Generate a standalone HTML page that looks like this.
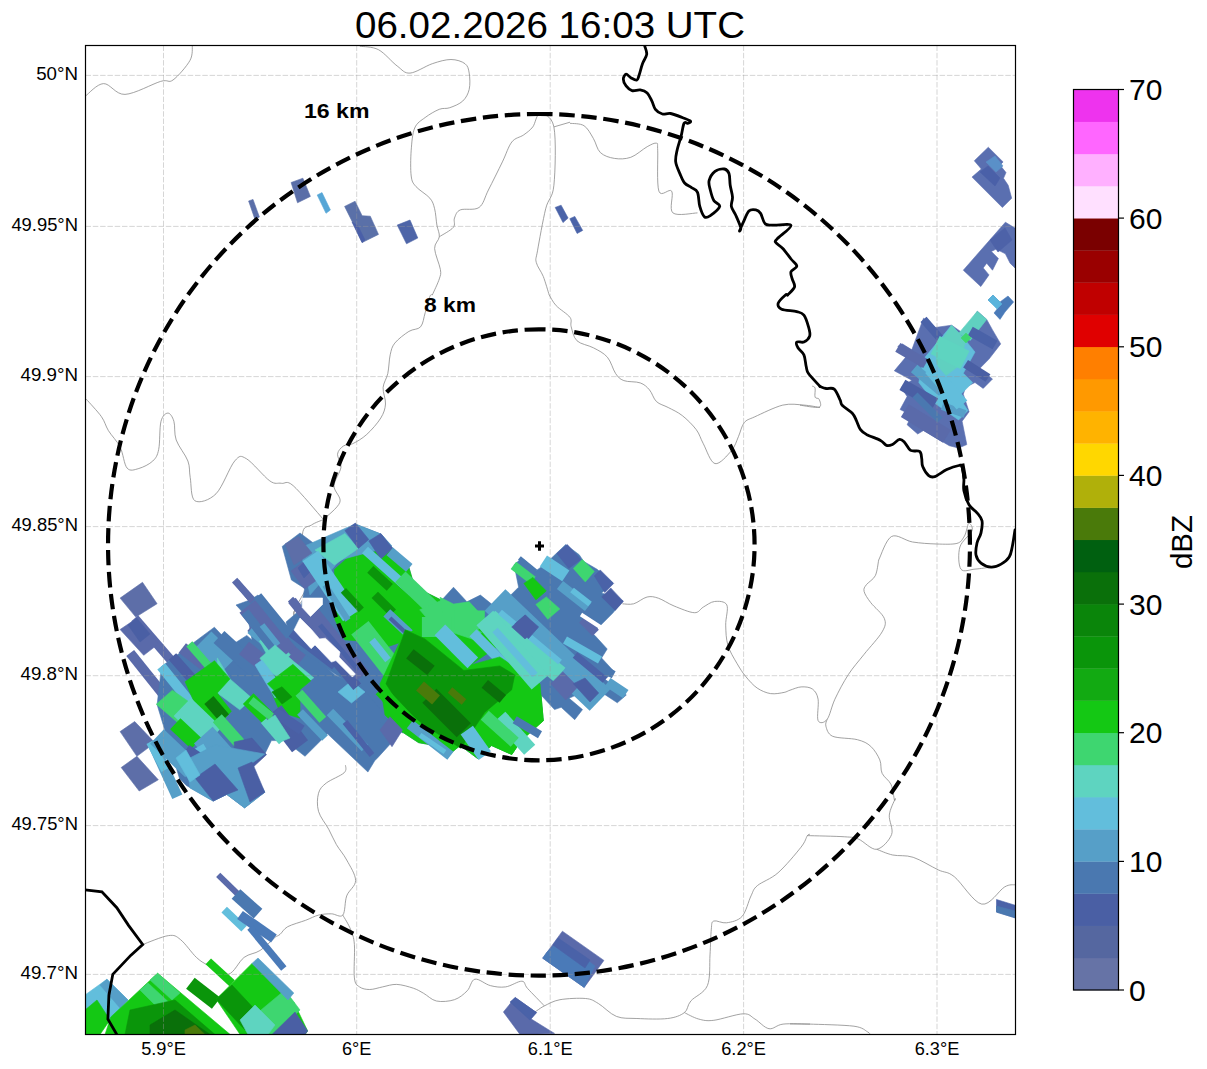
<!DOCTYPE html><html><head><meta charset="utf-8"><style>html,body{margin:0;padding:0;background:#fff;width:1207px;height:1069px;overflow:hidden;position:relative}</style></head><body><svg width="1207" height="1069" viewBox="0 0 1207 1069" style="position:absolute;left:0;top:0">
<rect width="100%" height="100%" fill="#fff"/>
<defs><clipPath id="ax"><rect x="85.5" y="45.5" width="930.0" height="989.0"/></clipPath></defs>
<g clip-path="url(#ax)">
<path d="M85.5,96.0 C88.5,93.9 96.9,83.9 103.5,83.6 C110.1,83.3 115.5,94.8 125.0,94.4 C134.5,94.0 152.6,83.8 160.6,81.4 C168.6,79.0 168.1,83.5 173.0,80.0 C177.9,76.5 186.8,66.2 190.0,60.4 C193.2,54.6 192.0,47.6 192.4,45.0" fill="none" stroke="#8a8a8a" stroke-width="0.8" stroke-linejoin="round"/>
<path d="M359.8,46.2 C362.9,46.8 372.3,46.4 378.5,49.7 C384.7,53.0 391.9,62.1 397.2,66.0 C402.4,69.9 404.1,73.5 410.0,73.1 C415.9,72.7 425.5,66.0 432.3,63.7 C439.1,61.4 445.6,59.5 451.0,59.5 C456.4,59.5 462.0,61.4 465.0,63.7 C468.0,66.0 468.5,68.8 469.2,73.1 C469.9,77.4 470.3,84.7 469.2,89.4 C468.1,94.1 465.9,98.0 462.7,101.1 C459.5,104.1 453.7,106.3 449.8,107.7 C445.9,109.1 443.4,107.7 439.3,109.3 C435.2,110.9 429.3,114.4 425.2,117.5 C421.1,120.6 417.0,122.5 414.7,128.0 C412.4,133.4 411.8,142.2 411.2,150.2 C410.6,158.2 410.4,169.9 411.2,176.0 C412.0,182.1 412.8,182.8 415.9,186.5 C419.0,190.2 426.8,194.5 429.9,198.2 C433.0,201.9 433.4,204.2 434.6,208.7 C435.8,213.2 436.1,220.4 436.9,225.1 C437.7,229.8 439.7,232.9 439.3,236.8 C438.9,240.7 434.4,243.1 434.6,248.5 C434.8,253.9 439.6,264.4 440.4,269.5 C441.2,274.6 440.6,274.6 439.3,278.9 C438.0,283.1 433.5,292.3 432.3,295.0" fill="none" stroke="#8a8a8a" stroke-width="0.8" stroke-linejoin="round"/>
<path d="M439.3,236.8 C441.6,235.2 450.8,230.5 453.3,227.4 C455.8,224.3 453.3,220.9 454.5,218.0 C455.7,215.1 456.2,211.7 460.3,209.9 C464.4,208.2 474.3,210.8 479.0,207.5 C483.7,204.2 484.5,197.6 488.4,190.0 C492.3,182.4 498.5,169.9 502.4,161.9 C506.3,153.9 508.3,146.5 511.8,142.0 C515.3,137.5 520.0,137.5 523.5,135.0 C527.0,132.5 530.1,130.4 532.8,126.9 C535.5,123.4 536.3,114.0 539.8,114.0 C543.3,114.0 551.5,115.0 553.9,126.9 C556.2,138.8 555.3,171.7 553.9,185.3 C552.5,198.9 548.4,197.8 545.7,208.7 C543.0,219.6 539.1,241.8 537.5,250.8 C535.9,259.8 535.3,258.2 536.3,262.5 C537.3,266.8 541.1,271.1 543.3,276.5 C545.4,281.9 548.2,291.9 549.2,295.0" fill="none" stroke="#8a8a8a" stroke-width="0.8" stroke-linejoin="round"/>
<path d="M553.9,126.9 L570.0,122.2" fill="none" stroke="#8a8a8a" stroke-width="0.8" stroke-linejoin="round"/>
<path d="M570.0,123.3 C572.3,123.7 580.1,123.2 584.0,125.7 C587.9,128.2 590.7,134.0 593.4,138.5 C596.1,143.0 596.9,149.3 600.4,152.6 C603.9,155.9 609.3,157.6 614.4,158.4 C619.5,159.2 625.3,159.2 630.8,157.3 C636.3,155.4 642.9,149.0 647.2,146.7 C651.5,144.3 654.8,142.6 656.5,143.2 C658.2,143.8 657.3,142.2 657.7,150.2 C658.1,158.2 656.6,184.4 658.9,191.2 C661.2,198.0 669.4,187.6 671.7,191.2 C674.0,194.8 668.6,209.3 672.9,212.9 C677.2,216.5 693.4,212.9 697.5,212.9" fill="none" stroke="#8a8a8a" stroke-width="0.8" stroke-linejoin="round"/>
<path d="M86.2,399.1 C88.7,402.0 97.7,411.4 101.4,416.6 C105.1,421.9 105.3,425.5 108.4,430.6 C111.5,435.7 117.0,440.8 120.1,447.0 C123.2,453.2 124.0,464.5 127.1,468.1 C130.2,471.7 134.5,469.7 138.8,468.5 C143.1,467.3 149.5,464.2 152.8,461.0 C156.1,457.8 157.3,456.0 158.7,449.4 C160.1,442.8 159.4,427.4 161.0,421.3 C162.6,415.2 165.8,413.1 168.0,413.1 C170.2,413.1 172.5,416.8 173.9,421.3 C175.3,425.8 173.9,433.4 176.2,440.0 C178.5,446.6 185.6,454.8 187.9,461.0 C190.2,467.2 189.0,470.8 190.2,477.4 C191.4,484.0 190.6,498.1 194.9,500.8 C199.2,503.5 209.4,500.4 216.0,493.8 C222.6,487.2 229.6,466.9 234.7,461.0 C239.8,455.1 240.6,455.4 246.4,458.7 C252.2,462.0 264.0,476.8 269.8,480.9 C275.6,485.0 277.5,482.5 281.4,483.3 C285.3,484.1 286.1,479.6 293.1,485.6 C300.1,491.6 318.4,513.9 323.5,519.5" fill="none" stroke="#8a8a8a" stroke-width="0.8" stroke-linejoin="round"/>
<path d="M432.3,295.0 C431.9,295.2 431.1,293.4 429.9,296.4 C428.7,299.3 426.8,307.6 425.2,312.7 C423.6,317.8 423.3,323.7 420.6,326.8 C417.9,329.9 413.2,328.7 408.9,331.4 C404.6,334.1 397.9,339.2 394.8,343.1 C391.7,347.0 391.4,349.7 390.2,354.8 C389.0,359.9 389.0,368.0 387.8,373.5 C386.6,379.0 383.5,382.5 383.1,387.6 C382.7,392.7 385.9,398.9 385.5,404.0 C385.1,409.1 383.9,412.9 380.8,418.0 C377.7,423.1 371.5,430.1 366.8,434.4 C362.1,438.7 356.6,441.8 352.7,443.7 C348.8,445.6 345.9,444.2 343.4,446.0 C340.9,447.8 337.9,450.7 337.5,454.2 C337.1,457.7 341.6,461.8 341.0,467.1 C340.4,472.4 334.2,480.0 334.0,485.8 C333.8,491.6 341.6,496.6 339.9,502.2 C338.1,507.8 326.2,516.6 323.5,519.5" fill="none" stroke="#8a8a8a" stroke-width="0.8" stroke-linejoin="round"/>
<path d="M549.2,295.0 C550.4,296.8 552.7,302.0 556.2,305.7 C559.7,309.4 567.5,313.9 570.0,317.4 C572.5,320.9 570.0,322.9 571.2,326.8 C572.4,330.7 573.3,337.3 577.0,340.8 C580.7,344.3 588.3,345.1 593.4,347.8 C598.5,350.5 603.7,352.9 607.4,357.2 C611.1,361.5 612.9,369.6 615.6,373.5 C618.3,377.4 619.7,379.0 623.8,380.6 C627.9,382.2 635.9,381.3 640.2,382.9 C644.5,384.4 646.8,386.8 649.5,389.9 C652.2,393.0 653.4,398.7 656.5,401.6 C659.6,404.5 663.9,405.2 668.2,407.5 C672.5,409.8 677.6,411.9 682.3,415.6 C687.0,419.3 692.8,425.0 696.3,429.7 C699.8,434.4 700.2,438.0 703.3,443.7 C706.4,449.4 710.3,462.4 715.0,463.6 C719.7,464.8 727.5,455.2 731.4,450.7 C735.3,446.2 736.3,441.4 738.4,436.7 C740.5,432.0 741.5,426.0 744.2,422.7 C746.9,419.4 748.4,419.7 754.8,416.8 C761.2,413.9 774.6,407.1 782.8,405.1 C791.0,403.2 797.7,404.7 803.9,405.1 C810.1,405.5 817.3,407.1 820.0,407.5" fill="none" stroke="#8a8a8a" stroke-width="0.8" stroke-linejoin="round"/>
<path d="M800.0,405.2 C803.2,405.5 815.9,408.2 819.1,407.2 C822.3,406.2 819.8,400.9 819.1,399.2 C818.4,397.5 815.8,399.0 815.1,397.2 C814.4,395.4 815.6,390.0 815.1,388.1 C814.6,386.2 812.6,386.4 812.1,386.1" fill="none" stroke="#8a8a8a" stroke-width="0.8" stroke-linejoin="round"/>
<path d="M878.7,560.0 C880.8,556.1 885.9,539.5 891.5,536.5 C897.1,533.5 905.1,540.8 912.6,542.0 C920.1,543.2 929.4,543.8 936.8,544.0 C944.2,544.2 952.4,544.6 956.9,543.4 C961.4,542.2 962.2,539.4 963.9,537.0 C965.6,534.6 966.1,531.2 966.9,528.9 C967.7,526.5 968.0,522.6 968.9,522.9 C969.8,523.2 973.5,526.9 972.0,530.9 C970.5,534.9 961.8,540.6 959.9,547.0 C958.0,553.4 958.4,565.4 960.9,569.1 C963.4,572.8 970.0,569.4 975.0,569.1 C980.0,568.8 988.4,567.4 991.1,567.1" fill="none" stroke="#8a8a8a" stroke-width="0.8" stroke-linejoin="round"/>
<path d="M142.7,944.5 C147.0,943.0 162.2,936.4 168.5,935.6 C174.8,934.8 175.8,935.9 180.4,939.5 C185.1,943.1 191.8,953.1 196.4,957.4 C201.1,961.7 203.0,962.6 208.3,965.4 C213.6,968.2 222.2,975.6 228.2,974.3 C234.2,973.0 238.8,961.4 244.1,957.4 C249.4,953.4 254.7,954.0 260.0,950.5 C265.3,947.0 273.2,938.9 275.9,936.6" fill="none" stroke="#8a8a8a" stroke-width="0.8" stroke-linejoin="round"/>
<path d="M345.5,765.2 C345.3,766.5 347.3,769.8 344.1,772.8 C340.9,775.8 330.5,779.7 326.2,783.1 C321.9,786.5 319.8,788.6 318.5,793.3 C317.2,798.0 316.8,805.3 318.5,811.3 C320.2,817.3 325.7,823.7 328.7,829.2 C331.7,834.8 333.4,839.5 336.4,844.6 C339.4,849.7 343.5,854.0 346.7,860.0 C349.9,866.0 355.6,874.5 355.6,880.5 C355.6,886.5 348.8,890.1 346.7,895.9 C344.6,901.7 345.4,912.1 342.8,915.1 C340.2,918.1 335.4,913.8 331.3,913.8 C327.2,913.8 322.8,914.0 318.5,915.1 C314.2,916.2 310.7,918.4 305.6,920.3 C300.5,922.2 292.0,924.4 287.7,926.7 C283.4,929.1 282.0,932.8 280.0,934.4 C278.0,936.0 276.6,936.2 275.9,936.6" fill="none" stroke="#8a8a8a" stroke-width="0.8" stroke-linejoin="round"/>
<path d="M342.8,915.1 C344.1,917.5 348.6,924.3 350.5,929.2 C352.4,934.1 353.8,936.5 354.4,944.6 C355.0,952.7 353.5,970.9 354.4,977.9 C355.2,984.9 356.9,985.0 359.5,986.9 C362.1,988.8 365.8,989.5 369.7,989.5 C373.6,989.5 378.1,987.8 382.6,986.9 C387.1,986.0 391.6,984.2 396.7,984.4 C401.8,984.6 408.8,986.7 413.3,988.2 C417.8,989.7 419.8,991.2 423.6,993.3 C427.5,995.4 431.3,999.9 436.4,1001.0 C441.5,1002.1 449.3,1001.4 454.4,999.7 C459.5,998.0 463.8,994.2 467.2,990.8 C470.6,987.4 471.0,980.1 474.9,979.2 C478.8,978.3 485.2,984.3 490.3,985.6 C495.4,986.9 500.3,987.6 505.6,986.9 C510.9,986.2 518.2,980.9 521.9,981.2 C525.6,981.5 523.9,984.4 527.6,988.5 C531.4,992.6 541.6,1003.0 544.4,1005.9" fill="none" stroke="#8a8a8a" stroke-width="0.8" stroke-linejoin="round"/>
<path d="M306.2,589.1 C304.1,593.4 293.3,608.9 293.9,614.9 C294.5,620.9 307.0,623.3 309.6,625.0" fill="none" stroke="#8a8a8a" stroke-width="0.8" stroke-linejoin="round"/>
<path d="M323.8,519.5 C321.7,520.4 315.0,522.5 311.4,525.1 C307.8,527.7 303.1,524.5 302.4,535.2 C301.6,545.9 308.4,576.0 306.9,589.1 C305.4,602.2 293.1,608.1 293.5,613.7 C293.9,619.3 306.6,621.2 309.2,622.7" fill="none" stroke="#8a8a8a" stroke-width="0.8" stroke-linejoin="round"/>
<path d="M522.0,1020.0 C524.4,1018.5 532.8,1013.2 536.5,1010.9 C540.2,1008.5 540.5,1007.8 544.4,1005.9 C548.3,1004.0 553.1,1000.9 560.0,999.7 C566.9,998.5 579.2,997.9 585.6,998.5 C592.0,999.1 593.4,1000.6 598.5,1003.6 C603.6,1006.6 610.0,1013.9 616.4,1016.4 C622.8,1018.9 628.3,1018.1 636.9,1018.5 C645.5,1018.9 659.8,1019.5 667.7,1018.5 C675.6,1017.5 680.5,1015.5 684.4,1012.6 C688.2,1009.7 687.0,1005.5 690.8,1001.0 C694.6,996.5 704.2,993.3 707.4,985.6 C710.6,977.9 709.4,964.3 710.0,954.9 C710.6,945.5 710.7,934.9 711.3,929.2 C711.9,923.6 711.2,922.1 713.8,921.0 C716.4,919.9 722.0,923.6 726.7,922.8 C731.4,922.0 738.1,920.9 742.1,916.4 C746.1,911.9 748.5,901.0 751.0,895.9 C753.5,890.8 752.9,889.5 757.4,885.6 C761.9,881.8 770.7,879.2 778.0,872.8 C785.3,866.4 796.1,853.4 801.0,847.2 C805.9,841.0 805.9,837.7 807.4,835.6 C808.9,833.5 809.6,834.6 810.0,834.4" fill="none" stroke="#8a8a8a" stroke-width="0.8" stroke-linejoin="round"/>
<path d="M684.4,1012.6 C686.8,1013.7 693.6,1017.7 698.5,1019.0 C703.4,1020.3 706.3,1021.2 713.8,1020.3 C721.3,1019.4 736.4,1014.0 743.3,1013.8 C750.1,1013.6 750.6,1016.5 754.9,1019.0 C759.2,1021.5 764.3,1027.9 769.0,1028.7 C773.7,1029.5 776.3,1024.9 783.1,1024.1 C789.9,1023.3 805.5,1024.1 810.0,1024.1" fill="none" stroke="#8a8a8a" stroke-width="0.8" stroke-linejoin="round"/>
<path d="M878.7,560.0 C878.1,562.6 877.3,571.6 875.3,575.7 C873.2,579.8 868.3,582.1 866.4,584.7 C864.5,587.3 863.4,588.4 864.1,591.4 C864.8,594.4 867.4,598.2 870.8,602.7 C874.2,607.2 882.4,613.5 884.3,618.4 C886.2,623.3 885.5,625.9 882.1,631.9 C878.7,637.9 869.7,647.2 864.1,654.3 C858.5,661.4 853.3,667.0 848.4,674.5 C843.5,682.0 838.4,691.7 834.9,699.2 C831.4,706.7 829.9,715.8 827.1,719.4 C824.3,723.0 819.6,724.0 818.1,720.6 C816.6,717.2 819.0,704.5 818.1,699.2 C817.2,694.0 815.3,691.2 812.5,689.1 C809.7,687.0 805.0,686.7 801.2,686.9 C797.5,687.1 792.9,689.3 790.0,690.2 C787.1,691.1 787.3,691.8 784.1,692.4 C780.9,693.0 775.1,694.3 770.6,693.6 C766.1,692.9 761.2,690.8 757.1,688.0 C753.0,685.2 749.3,680.8 745.9,676.7 C742.5,672.6 739.9,668.5 736.9,663.3 C733.9,658.1 729.8,651.7 727.9,645.3 C726.0,638.9 725.9,631.8 725.7,625.1 C725.5,618.4 728.7,608.8 726.8,604.9 C724.9,601.0 718.4,601.1 714.5,601.5 C710.6,601.9 706.7,605.2 703.3,607.1 C699.9,609.0 699.2,612.9 694.3,612.7 C689.4,612.5 680.1,608.4 674.1,606.0 C668.1,603.6 662.9,599.7 658.4,598.2 C653.9,596.7 651.2,596.1 647.1,597.0 C643.0,597.9 637.8,602.7 633.7,603.8 C629.6,604.9 624.3,603.8 622.4,603.8" fill="none" stroke="#8a8a8a" stroke-width="0.8" stroke-linejoin="round"/>
<path d="M827.1,719.4 C826.9,720.5 825.0,723.4 825.9,726.2 C826.8,729.0 827.5,734.0 832.7,736.3 C838.0,738.5 851.0,738.0 857.4,739.7 C863.8,741.4 867.1,743.0 870.8,746.4 C874.5,749.8 877.9,755.4 879.8,759.9 C881.7,764.4 880.2,769.2 882.1,773.3 C884.0,777.4 889.1,780.1 891.1,784.6 C893.1,789.1 893.8,797.6 894.4,800.0 C895.0,802.4 895.9,796.6 895.0,799.1 C894.1,801.6 889.9,809.2 889.3,815.1 C888.7,821.0 893.7,828.8 891.6,834.5 C889.5,840.2 882.2,848.5 876.7,849.3 C871.2,850.1 863.8,841.2 858.5,839.1 C853.2,837.0 853.4,837.4 844.8,836.8 C836.2,836.2 813.4,835.8 807.1,835.6" fill="none" stroke="#8a8a8a" stroke-width="0.8" stroke-linejoin="round"/>
<path d="M876.7,849.3 C879.4,850.2 886.6,853.7 892.7,855.0 C898.8,856.3 905.6,854.8 913.2,857.3 C920.8,859.8 931.4,866.7 938.3,869.9 C945.1,873.1 947.1,871.0 954.3,876.7 C961.5,882.4 973.3,902.4 981.7,904.1 C990.1,905.8 999.0,890.2 1004.5,887.0 C1010.0,883.8 1013.2,885.1 1015.0,884.7" fill="none" stroke="#8a8a8a" stroke-width="0.8" stroke-linejoin="round"/>
<path d="M790.0,1023.9 L810.0,1024.1" fill="none" stroke="#8a8a8a" stroke-width="0.8" stroke-linejoin="round"/>
<path d="M810.0,1024.1 C817.3,1024.4 844.3,1024.9 853.9,1026.2 C863.5,1027.5 864.9,1030.5 867.6,1031.9 C870.3,1033.3 869.6,1034.1 870.0,1034.5" fill="none" stroke="#8a8a8a" stroke-width="0.8" stroke-linejoin="round"/>
<polygon points="248.6,201.0 253.0,199.4 259.4,217.0 255.0,219.4" fill="#5a6ea8" stroke="#5a6ea8" stroke-width="0.6" stroke-linejoin="round"/>
<polygon points="291.1,182.5 302.9,178.2 310.4,196.4 297.5,202.8" fill="#5a6ea8" stroke="#5a6ea8" stroke-width="0.6" stroke-linejoin="round"/>
<polygon points="317.2,195.0 322.0,192.6 330.4,210.0 326.0,213.3" fill="#56a6d6" stroke="#56a6d6" stroke-width="0.6" stroke-linejoin="round"/>
<polygon points="344.6,206.4 355.1,201.2 362.1,215.7 370.3,216.2 378.5,234.4 362.1,242.6 355.1,227.4" fill="#5a70a8" stroke="#5a70a8" stroke-width="0.6" stroke-linejoin="round"/>
<polygon points="352.0,222.0 358.0,226.0 365.0,240.0 362.1,242.6" fill="#4a5fa8" stroke="#4a5fa8" stroke-width="0.6" stroke-linejoin="round"/>
<polygon points="397.2,225.1 410.0,220.0 417.8,238.0 406.5,243.8" fill="#4e65a8" stroke="#4e65a8" stroke-width="0.6" stroke-linejoin="round"/>
<polygon points="555.2,207.4 561.1,205.2 568.1,218.1 563.0,222.6" fill="#4a63a8" stroke="#4a63a8" stroke-width="0.6" stroke-linejoin="round"/>
<polygon points="569.8,218.7 574.8,216.4 582.7,230.4 577.1,233.5" fill="#4a63a8" stroke="#4a63a8" stroke-width="0.6" stroke-linejoin="round"/>
<polygon points="974.3,160.8 988.3,147.2 1003.1,161.9 1000.0,165.0 1006.0,172.6 1003.5,178.3 1008.2,185.3 1011.7,198.2 1002.4,207.5 972.0,177.1 981.3,169.0" fill="#5a6fb0" stroke="#5a6fb0" stroke-width="0.6" stroke-linejoin="round"/>
<polygon points="980.0,172.0 988.0,166.0 1000.0,178.0 995.0,186.0" fill="#4a60a8" stroke="#4a60a8" stroke-width="0.6" stroke-linejoin="round"/>
<polygon points="986.0,162.0 995.0,156.0 1003.0,166.0 996.0,172.0" fill="#5a90c8" stroke="#5a90c8" stroke-width="0.6" stroke-linejoin="round"/>
<polygon points="963.3,270.2 1005.4,222.2 1015.0,228.1 1015.0,267.9 1010.1,263.2 1005.4,253.8 996.1,249.1 991.4,251.5 998.4,258.5 992.5,270.2 986.7,263.2 983.2,267.9 989.0,274.9 980.8,286.6" fill="#5a6fb0" stroke="#5a6fb0" stroke-width="0.6" stroke-linejoin="round"/>
<polygon points="990.0,240.0 1005.0,228.0 1012.0,240.0 998.0,252.0" fill="#4d62a8" stroke="#4d62a8" stroke-width="0.6" stroke-linejoin="round"/>
<polygon points="988.0,300.0 993.0,295.0 1000.0,302.0 1008.0,296.0 1013.6,302.0 1005.0,312.0 1000.0,319.4 994.0,313.0 998.0,308.0" fill="#4a7ab8" stroke="#4a7ab8" stroke-width="0.6" stroke-linejoin="round"/>
<polygon points="988.0,300.0 993.0,295.0 1002.0,304.0 997.0,309.0" fill="#5ab4dc" stroke="#5ab4dc" stroke-width="0.6" stroke-linejoin="round"/>
<polygon points="897.8,346.3 902.4,343.9 911.8,349.8 923.5,318.2 935.2,327.5 951.6,325.2 963.3,333.4 977.3,311.2 986.7,319.4 992.5,329.9 1000.7,343.9 989.0,359.1 979.7,368.5 992.5,379.0 983.2,388.4 975.0,382.5 965.6,387.2 963.3,394.2 969.1,411.8 962.1,421.2 966.8,444.6 958.6,448.1 949.3,445.7 923.5,430.5 917.7,434.0 907.1,424.7 911.8,415.3 900.1,409.5 907.1,396.6 901.3,387.2 911.8,380.2 894.3,370.8 907.1,355.6" fill="#5a6fb0" stroke="#5a6fb0" stroke-width="0.6" stroke-linejoin="round"/>
<polygon points="923.5,359.1 951.6,325.2 965.6,340.4 975.0,352.1 963.3,373.2 972.7,382.5 958.6,396.6 968.0,410.6 958.6,420.0 935.2,403.6 918.8,382.5" fill="#62bedc" stroke="#62bedc" stroke-width="0.6" stroke-linejoin="round"/>
<polygon points="935.0,350.0 951.6,325.2 965.6,340.4 960.0,365.0 940.0,380.0" fill="#60d0c0" stroke="#60d0c0" stroke-width="0.6" stroke-linejoin="round"/>
<polygon points="958.6,333.4 977.3,311.2 986.7,319.4 970.3,340.4" fill="#60d0c0" stroke="#60d0c0" stroke-width="0.6" stroke-linejoin="round"/>
<line x1="923.5" y1="319.4" x2="939.9" y2="338.1" stroke="#4a62a8" stroke-width="8"/>
<line x1="897.8" y1="347.4" x2="925.8" y2="363.8" stroke="#5a6aaa" stroke-width="10"/>
<line x1="902.4" y1="384.9" x2="935.2" y2="403.6" stroke="#4a5fa4" stroke-width="12"/>
<line x1="904.8" y1="410.6" x2="946.9" y2="436.4" stroke="#5a6aaa" stroke-width="15"/>
<line x1="970.3" y1="331.1" x2="995.0" y2="345.0" stroke="#4a62a8" stroke-width="10"/>
<line x1="965.6" y1="363.8" x2="988.0" y2="378.0" stroke="#4a5fa4" stroke-width="9"/>
<line x1="914.1" y1="368.5" x2="942.2" y2="391.9" stroke="#569fc8" stroke-width="10"/>
<line x1="942.2" y1="406.0" x2="965.0" y2="414.0" stroke="#569fc8" stroke-width="8"/>
<line x1="935.2" y1="345.0" x2="965.0" y2="360.0" stroke="#5ed4c0" stroke-width="20"/>
<line x1="930.5" y1="368.5" x2="962.0" y2="405.0" stroke="#62bedc" stroke-width="14"/>
<line x1="915.0" y1="395.0" x2="940.0" y2="420.0" stroke="#4a78b0" stroke-width="7"/>
<polygon points="961.0,338.0 966.0,333.0 971.0,338.0 966.0,343.0" fill="#3ed670" stroke="#3ed670" stroke-width="0.6" stroke-linejoin="round"/>
<line x1="218.2" y1="874.9" x2="246.0" y2="902.0" stroke="#5a6aaa" stroke-width="6"/>
<line x1="236.0" y1="894.0" x2="258.0" y2="913.7" stroke="#4a78b0" stroke-width="13"/>
<line x1="224.2" y1="909.7" x2="244.1" y2="928.6" stroke="#62bedc" stroke-width="8"/>
<line x1="240.0" y1="915.0" x2="273.9" y2="938.5" stroke="#4a7ab8" stroke-width="10"/>
<line x1="250.0" y1="927.6" x2="283.8" y2="968.4" stroke="#4a7ab8" stroke-width="7"/>
<polygon points="85.0,995.0 106.9,979.3 128.0,1000.0 108.0,1023.0 85.0,1030.0" fill="#62bedc" stroke="#62bedc" stroke-width="0.6" stroke-linejoin="round"/>
<polygon points="100.0,985.0 106.9,979.3 128.0,1000.0 120.0,1008.0" fill="#569fc8" stroke="#569fc8" stroke-width="0.6" stroke-linejoin="round"/>
<polygon points="110.8,1017.0 157.6,973.3 230.2,1034.5 105.0,1034.5" fill="#14c814" stroke="#14c814" stroke-width="0.6" stroke-linejoin="round"/>
<polygon points="85.0,1010.0 97.0,1000.0 110.0,1020.0 100.0,1034.5 85.0,1034.5" fill="#14c814" stroke="#14c814" stroke-width="0.6" stroke-linejoin="round"/>
<polygon points="150.0,980.0 157.6,973.3 180.0,993.0 172.0,1000.0" fill="#3ed670" stroke="#3ed670" stroke-width="0.6" stroke-linejoin="round"/>
<polygon points="140.0,990.0 148.0,983.0 175.0,1008.0 165.0,1015.0" fill="#3ed670" stroke="#3ed670" stroke-width="0.6" stroke-linejoin="round"/>
<polygon points="130.0,1010.0 175.0,1000.0 215.0,1034.5 125.0,1034.5" fill="#0a950a" stroke="#0a950a" stroke-width="0.6" stroke-linejoin="round"/>
<polygon points="150.0,1025.0 175.0,1010.0 210.0,1034.5 150.0,1034.5" fill="#0a700a" stroke="#0a700a" stroke-width="0.6" stroke-linejoin="round"/>
<polygon points="185.0,1030.0 195.0,1025.0 205.0,1034.5 185.0,1034.5" fill="#4a7a0a" stroke="#4a7a0a" stroke-width="0.6" stroke-linejoin="round"/>
<line x1="208.3" y1="961.4" x2="232.1" y2="983.3" stroke="#14c814" stroke-width="8"/>
<line x1="190.4" y1="983.3" x2="216.2" y2="1003.2" stroke="#0a950a" stroke-width="14"/>
<polygon points="216.2,999.2 252.0,963.4 293.8,1002.2 307.7,1031.0 305.0,1034.5 240.1,1034.5" fill="#14c814" stroke="#14c814" stroke-width="0.6" stroke-linejoin="round"/>
<polygon points="216.2,999.2 232.0,985.0 260.0,1015.0 245.0,1030.0" fill="#0a950a" stroke="#0a950a" stroke-width="0.6" stroke-linejoin="round"/>
<polygon points="255.0,1015.0 285.0,990.0 300.0,1010.0 275.0,1034.5 260.0,1034.5" fill="#3ed670" stroke="#3ed670" stroke-width="0.6" stroke-linejoin="round"/>
<polygon points="240.0,1020.0 255.0,1005.0 275.0,1025.0 268.0,1034.5 248.0,1034.5" fill="#5ed4c0" stroke="#5ed4c0" stroke-width="0.6" stroke-linejoin="round"/>
<polygon points="252.0,963.4 258.0,958.0 293.8,993.0 288.0,1000.0" fill="#569fc8" stroke="#569fc8" stroke-width="0.6" stroke-linejoin="round"/>
<polygon points="272.0,1034.5 295.0,1012.0 307.7,1031.0 305.0,1034.5" fill="#4a5fa4" stroke="#4a5fa4" stroke-width="0.6" stroke-linejoin="round"/>
<polygon points="120.1,598.1 142.5,582.3 157.1,603.7 135.8,617.1" fill="#5d6ea8" stroke="#5d6ea8" stroke-width="0.6" stroke-linejoin="round"/>
<line x1="134.7" y1="618.2" x2="170.6" y2="659.8" stroke="#5a6aaa" stroke-width="9"/>
<polygon points="120.1,629.5 136.9,618.2 158.3,644.1 143.7,655.3" fill="#5a6aaa" stroke="#5a6aaa" stroke-width="0.6" stroke-linejoin="round"/>
<polygon points="128.0,625.0 136.9,618.2 150.0,634.0 140.0,642.0" fill="#4a5fa4" stroke="#4a5fa4" stroke-width="0.6" stroke-linejoin="round"/>
<line x1="130.2" y1="653.0" x2="166.1" y2="697.9" stroke="#5a6aaa" stroke-width="10"/>
<polygon points="120.1,731.6 134.7,721.5 154.9,742.8 136.9,756.3" fill="#5d6ea8" stroke="#5d6ea8" stroke-width="0.6" stroke-linejoin="round"/>
<polygon points="121.2,767.5 136.9,756.3 158.3,779.8 139.2,791.0" fill="#5d6ea8" stroke="#5d6ea8" stroke-width="0.6" stroke-linejoin="round"/>
<line x1="152.6" y1="742.8" x2="177.3" y2="796.7" stroke="#569fc8" stroke-width="11"/>
<line x1="150.0" y1="742.0" x2="165.0" y2="770.0" stroke="#62bedc" stroke-width="8"/>
<line x1="234.6" y1="580.1" x2="253.6" y2="601.4" stroke="#5a6aaa" stroke-width="7"/>
<line x1="290.5" y1="599.2" x2="334.3" y2="646.3" stroke="#5a6aaa" stroke-width="7"/>
<polygon points="157.1,704.7 161.6,666.5 214.4,627.2 231.4,645.3 246.8,635.4 252.0,640.0 248.0,618.0 236.0,605.0 250.0,600.0 258.0,595.0 290.0,632.0 296.0,645.0 320.0,662.0 335.0,675.0 350.0,682.0 365.0,700.0 380.0,720.0 401.6,731.6 378.0,757.4 374.7,760.8 367.9,772.0 327.5,733.8 320.8,740.6 305.0,756.3 284.9,740.6 271.4,740.6 264.8,754.0 249.1,765.2 264.8,792.2 244.6,807.9 226.7,794.4 213.2,801.1 186.3,785.4 179.6,778.7" fill="#4a78b0" stroke="#4a78b0" stroke-width="0.6" stroke-linejoin="round"/>
<polygon points="286.0,622.0 300.0,610.0 330.0,648.0 358.0,680.0 387.0,714.0 403.0,733.0 380.0,722.0 350.0,684.0 320.0,664.0 294.0,647.0" fill="#4a78b0" stroke="#4a78b0" stroke-width="0.6" stroke-linejoin="round"/>
<polygon points="282.2,546.4 300.0,533.0 320.0,548.0 355.2,524.0 381.0,534.1 409.0,567.7 414.6,586.8 441.6,600.3 453.5,587.2 466.9,601.8 480.4,595.1 497.2,608.6 518.6,587.2 514.1,564.8 521.9,558.1 536.5,570.4 545.5,563.7 565.7,544.6 579.2,554.7 583.7,561.4 597.1,569.3 612.8,582.7 601.6,592.9 622.9,600.7 612.8,613.1 597.1,628.8 588.1,619.8 583.7,626.5 594.9,635.5 607.2,649.0 601.6,658.0 614.0,671.4 605.0,679.3 626.3,695.0 617.3,702.8 603.9,693.9 594.9,700.6 583.7,691.6 569.1,698.3 582.5,709.6 574.7,719.7 561.2,707.3 554.5,709.6 541.0,695.0 543.3,720.8 534.3,727.5 520.8,741.0 511.8,754.5 491.6,745.5 478.2,759.0 460.2,745.5 446.7,756.7 440.0,752.2 432.0,745.0 418.7,742.7 401.6,731.6 385.0,715.0 358.0,682.0 330.0,650.0 310.0,625.0 300.0,612.0 304.7,588.4 291.4,580.0" fill="#4a78b0" stroke="#4a78b0" stroke-width="0.6" stroke-linejoin="round"/>
<line x1="203.0" y1="640.0" x2="228.6" y2="665.0" stroke="#569fc8" stroke-width="24"/>
<line x1="219.0" y1="637.0" x2="255.0" y2="670.0" stroke="#4a78b0" stroke-width="16"/>
<line x1="244.0" y1="648.0" x2="264.0" y2="664.0" stroke="#5a6aaa" stroke-width="16"/>
<line x1="253.0" y1="624.0" x2="300.0" y2="662.1" stroke="#5a6aaa" stroke-width="18"/>
<line x1="250.0" y1="630.0" x2="295.0" y2="668.0" stroke="#569fc8" stroke-width="8"/>
<line x1="182.3" y1="648.1" x2="206.1" y2="666.3" stroke="#5a6aaa" stroke-width="12"/>
<line x1="172.4" y1="656.5" x2="192.1" y2="678.9" stroke="#4a5fa4" stroke-width="10"/>
<line x1="189.3" y1="643.9" x2="208.9" y2="666.3" stroke="#3ed670" stroke-width="8"/>
<line x1="161.2" y1="666.3" x2="196.3" y2="709.8" stroke="#62bedc" stroke-width="10"/>
<polygon points="217.3,657.9 230.0,678.9 252.4,698.6 239.8,709.8 217.3,693.0" fill="#5ed4c0" stroke="#5ed4c0" stroke-width="0.6" stroke-linejoin="round"/>
<polygon points="185.1,681.7 214.5,660.7 230.0,678.9 217.3,693.0 231.4,711.2 218.8,725.2 196.3,707.0" fill="#14c814" stroke="#14c814" stroke-width="0.6" stroke-linejoin="round"/>
<line x1="208.9" y1="700.0" x2="224.4" y2="718.2" stroke="#0a7a0a" stroke-width="12"/>
<polygon points="156.3,704.2 172.4,690.2 196.3,707.0 182.3,726.6" fill="#3ed670" stroke="#3ed670" stroke-width="0.6" stroke-linejoin="round"/>
<line x1="182.3" y1="707.0" x2="213.1" y2="736.5" stroke="#5ed4c0" stroke-width="25"/>
<line x1="175.3" y1="723.8" x2="196.3" y2="743.5" stroke="#14c814" stroke-width="15"/>
<line x1="157.0" y1="736.5" x2="192.1" y2="770.0" stroke="#569fc8" stroke-width="20"/>
<line x1="203.3" y1="735.1" x2="234.2" y2="770.0" stroke="#569fc8" stroke-width="25"/>
<line x1="199.1" y1="746.3" x2="213.1" y2="770.0" stroke="#62bedc" stroke-width="10"/>
<line x1="217.3" y1="718.2" x2="239.8" y2="743.5" stroke="#3ed670" stroke-width="12"/>
<line x1="183.7" y1="753.3" x2="208.9" y2="770.0" stroke="#4a5fa4" stroke-width="20"/>
<polygon points="234.2,742.0 252.0,738.0 266.5,754.7 250.0,770.0 234.2,770.0" fill="#4a5fa4" stroke="#4a5fa4" stroke-width="0.6" stroke-linejoin="round"/>
<polygon points="259.4,641.0 275.0,635.0 290.3,655.0 275.0,669.0" fill="#5ed4c0" stroke="#5ed4c0" stroke-width="0.6" stroke-linejoin="round"/>
<polygon points="266.5,680.3 285.0,672.0 300.0,690.0 300.0,718.2 280.0,712.0" fill="#14c814" stroke="#14c814" stroke-width="0.6" stroke-linejoin="round"/>
<line x1="248.2" y1="698.6" x2="270.7" y2="721.0" stroke="#14c814" stroke-width="15"/>
<line x1="266.5" y1="718.2" x2="284.7" y2="739.3" stroke="#5ed4c0" stroke-width="15"/>
<line x1="273.5" y1="711.2" x2="300.0" y2="746.3" stroke="#4a5fa4" stroke-width="20"/>
<polygon points="186.0,760.0 215.0,745.0 264.8,754.0 249.1,765.2 264.8,792.2 244.6,807.9 226.7,794.4 213.2,801.1 190.0,788.0" fill="#569fc8" stroke="#569fc8" stroke-width="0.6" stroke-linejoin="round"/>
<polygon points="195.0,778.0 215.0,764.0 238.0,790.0 226.7,794.4 213.2,801.1" fill="#4a5fa4" stroke="#4a5fa4" stroke-width="0.6" stroke-linejoin="round"/>
<polygon points="238.0,768.0 252.0,762.0 264.8,792.2 250.0,802.0" fill="#4a5fa4" stroke="#4a5fa4" stroke-width="0.6" stroke-linejoin="round"/>
<polygon points="176.0,758.0 186.0,750.0 200.0,775.0 190.0,782.0" fill="#62bedc" stroke="#62bedc" stroke-width="0.6" stroke-linejoin="round"/>
<line x1="236.7" y1="582.0" x2="252.5" y2="601.4" stroke="#5a6aaa" stroke-width="6"/>
<line x1="248.0" y1="605.9" x2="286.9" y2="653.8" stroke="#5a6aaa" stroke-width="22"/>
<line x1="245.0" y1="612.0" x2="282.0" y2="660.0" stroke="#4a78b0" stroke-width="9"/>
<line x1="257.7" y1="596.2" x2="289.9" y2="635.9" stroke="#4a78b0" stroke-width="9"/>
<line x1="262.0" y1="625.0" x2="278.0" y2="645.0" stroke="#569fc8" stroke-width="6"/>
<line x1="292.9" y1="599.9" x2="322.8" y2="638.9" stroke="#5a6aaa" stroke-width="7"/>
<line x1="309.3" y1="614.9" x2="354.3" y2="674.8" stroke="#5a6aaa" stroke-width="13"/>
<line x1="315.0" y1="630.0" x2="350.0" y2="675.0" stroke="#4a62a8" stroke-width="5"/>
<line x1="291.4" y1="632.9" x2="334.8" y2="665.8" stroke="#4a62a8" stroke-width="9"/>
<polygon points="259.9,658.3 275.0,645.0 294.4,662.0 313.8,677.8 298.0,690.0 270.0,672.0" fill="#5ed4c0" stroke="#5ed4c0" stroke-width="0.6" stroke-linejoin="round"/>
<polygon points="255.0,665.0 262.0,660.0 285.0,690.0 275.0,698.0" fill="#62bedc" stroke="#62bedc" stroke-width="0.6" stroke-linejoin="round"/>
<polygon points="267.4,683.8 292.9,664.3 310.8,680.8 285.4,701.7" fill="#14c814" stroke="#14c814" stroke-width="0.6" stroke-linejoin="round"/>
<polygon points="271.9,692.0 282.0,686.8 292.0,697.0 282.0,704.0" fill="#0a950a" stroke="#0a950a" stroke-width="0.6" stroke-linejoin="round"/>
<line x1="251.0" y1="700.2" x2="274.9" y2="719.7" stroke="#3ed670" stroke-width="8"/>
<line x1="298.9" y1="692.8" x2="322.8" y2="719.7" stroke="#3ed670" stroke-width="9"/>
<polygon points="351.5,681.0 365.0,692.0 351.5,703.0 338.0,692.0" fill="#62bedc" stroke="#62bedc" stroke-width="0.6" stroke-linejoin="round"/>
<line x1="274.9" y1="712.2" x2="301.9" y2="730.0" stroke="#4a62a8" stroke-width="10"/>
<line x1="334.8" y1="659.8" x2="357.2" y2="686.8" stroke="#4a5fa4" stroke-width="10"/>
<line x1="300.0" y1="712.0" x2="325.0" y2="738.0" stroke="#569fc8" stroke-width="8"/>
<line x1="330.0" y1="712.0" x2="365.0" y2="748.0" stroke="#569fc8" stroke-width="9"/>
<line x1="345.0" y1="722.0" x2="372.0" y2="755.0" stroke="#4a62a8" stroke-width="6"/>
<polygon points="265.0,722.0 275.0,715.0 290.0,738.0 280.0,742.0" fill="#5ed4c0" stroke="#5ed4c0" stroke-width="0.6" stroke-linejoin="round"/>
<polygon points="334.4,569.4 347.9,557.4 392.0,548.0 409.0,567.7 414.6,586.8 441.6,600.3 460.0,609.3 480.0,625.0 500.0,645.0 460.0,672.1 405.7,640.7 385.5,647.4 356.3,640.7 344.9,639.8 335.0,620.0" fill="#14c814" stroke="#14c814" stroke-width="0.6" stroke-linejoin="round"/>
<polygon points="300.0,548.0 355.2,524.0 381.0,534.1 392.0,546.0 340.0,560.0 310.0,595.0" fill="#569fc8" stroke="#569fc8" stroke-width="0.6" stroke-linejoin="round"/>
<polygon points="285.0,544.0 298.5,536.5 312.0,553.0 294.0,565.0" fill="#5d6ea8" stroke="#5d6ea8" stroke-width="0.6" stroke-linejoin="round"/>
<polygon points="291.0,571.0 307.5,559.0 321.0,577.0 304.5,588.9" fill="#5a6aaa" stroke="#5a6aaa" stroke-width="0.6" stroke-linejoin="round"/>
<polygon points="298.0,568.0 307.5,559.0 314.0,568.0 304.0,578.0" fill="#4a62a8" stroke="#4a62a8" stroke-width="0.6" stroke-linejoin="round"/>
<polygon points="315.0,550.0 344.9,533.5 358.4,548.4 334.4,564.9" fill="#5ed4c0" stroke="#5ed4c0" stroke-width="0.6" stroke-linejoin="round"/>
<polygon points="344.9,530.5 355.4,523.0 368.8,539.5 358.4,548.4" fill="#4a62a8" stroke="#4a62a8" stroke-width="0.6" stroke-linejoin="round"/>
<polygon points="368.8,541.0 380.8,533.5 392.8,548.4 380.8,558.9" fill="#4a62a8" stroke="#4a62a8" stroke-width="0.6" stroke-linejoin="round"/>
<line x1="389.8" y1="551.4" x2="409.3" y2="567.9" stroke="#569fc8" stroke-width="10"/>
<line x1="365.0" y1="550.0" x2="412.0" y2="592.0" stroke="#62bedc" stroke-width="9"/>
<line x1="310.4" y1="556.0" x2="350.9" y2="615.8" stroke="#62bedc" stroke-width="19"/>
<line x1="325.0" y1="585.0" x2="348.0" y2="620.0" stroke="#569fc8" stroke-width="6"/>
<line x1="343.4" y1="590.4" x2="361.3" y2="609.8" stroke="#0a950a" stroke-width="7"/>
<line x1="370.3" y1="569.4" x2="389.8" y2="587.4" stroke="#0a950a" stroke-width="9"/>
<line x1="374.8" y1="594.9" x2="392.8" y2="612.8" stroke="#0a950a" stroke-width="9"/>
<line x1="400.3" y1="576.9" x2="434.7" y2="609.8" stroke="#3ed670" stroke-width="15"/>
<line x1="359.9" y1="627.8" x2="392.8" y2="669.7" stroke="#3ed670" stroke-width="22"/>
<polygon points="419.7,609.8 441.6,600.3 470.0,620.0 445.0,639.8" fill="#3ed670" stroke="#3ed670" stroke-width="0.6" stroke-linejoin="round"/>
<line x1="386.8" y1="612.8" x2="409.3" y2="633.8" stroke="#569fc8" stroke-width="10"/>
<line x1="390.0" y1="618.0" x2="405.0" y2="632.0" stroke="#4a5fa4" stroke-width="4"/>
<line x1="372.0" y1="640.0" x2="388.0" y2="660.0" stroke="#62bedc" stroke-width="7"/>
<line x1="291.0" y1="600.8" x2="322.4" y2="639.8" stroke="#5a6aaa" stroke-width="7"/>
<line x1="312.0" y1="612.8" x2="362.8" y2="675.7" stroke="#5a6aaa" stroke-width="15"/>
<line x1="320.0" y1="625.0" x2="358.0" y2="670.0" stroke="#4a62a8" stroke-width="5"/>
<polygon points="500.0,700.0 541.0,695.0 543.3,720.8 520.8,741.0 511.8,754.5 491.6,745.5" fill="#14c814" stroke="#14c814" stroke-width="0.6" stroke-linejoin="round"/>
<line x1="495.0" y1="600.0" x2="600.0" y2="700.0" stroke="#569fc8" stroke-width="30"/>
<line x1="540.0" y1="575.0" x2="582.0" y2="612.0" stroke="#4a78b0" stroke-width="20"/>
<polygon points="440.0,597.3 453.5,604.1 469.2,601.8 489.5,623.8 475.0,640.0 445.0,630.0" fill="#3ed670" stroke="#3ed670" stroke-width="0.6" stroke-linejoin="round"/>
<line x1="480.5" y1="626.8" x2="498.4" y2="638.8" stroke="#14c814" stroke-width="8"/>
<line x1="473.0" y1="632.8" x2="507.4" y2="667.2" stroke="#62bedc" stroke-width="10"/>
<line x1="489.5" y1="617.8" x2="559.8" y2="674.7" stroke="#5ed4c0" stroke-width="18"/>
<line x1="500.0" y1="612.0" x2="560.0" y2="662.0" stroke="#62bedc" stroke-width="6"/>
<line x1="519.4" y1="558.0" x2="535.9" y2="571.4" stroke="#4a78b0" stroke-width="4.5"/>
<line x1="513.4" y1="565.4" x2="532.9" y2="580.4" stroke="#3ed670" stroke-width="9"/>
<polygon points="523.9,583.4 532.9,577.4 546.3,590.9 535.9,599.9" fill="#14c814" stroke="#14c814" stroke-width="0.6" stroke-linejoin="round"/>
<polygon points="535.9,604.4 546.3,596.9 559.8,608.9 547.8,619.3" fill="#3ed670" stroke="#3ed670" stroke-width="0.6" stroke-linejoin="round"/>
<polygon points="556.8,553.5 567.3,544.5 580.8,559.5 568.8,568.4" fill="#4a62a8" stroke="#4a62a8" stroke-width="0.6" stroke-linejoin="round"/>
<polygon points="573.3,568.4 582.3,559.5 594.3,571.4 585.3,581.9" fill="#3ed670" stroke="#3ed670" stroke-width="0.6" stroke-linejoin="round"/>
<polygon points="594.3,575.9 600.2,569.9 613.7,583.4 604.7,592.4" fill="#4a62a8" stroke="#4a62a8" stroke-width="0.6" stroke-linejoin="round"/>
<polygon points="601.7,596.9 610.7,587.9 623.4,601.4 615.2,610.4" fill="#4a5fa4" stroke="#4a5fa4" stroke-width="0.6" stroke-linejoin="round"/>
<line x1="543.4" y1="561.0" x2="565.8" y2="575.9" stroke="#62bedc" stroke-width="13"/>
<line x1="560.0" y1="585.0" x2="588.0" y2="607.0" stroke="#569fc8" stroke-width="10"/>
<line x1="572.0" y1="590.0" x2="590.0" y2="604.0" stroke="#62bedc" stroke-width="6"/>
<polygon points="514.9,623.8 525.4,614.9 537.4,628.3 528.4,638.8" fill="#4a5fa4" stroke="#4a5fa4" stroke-width="0.6" stroke-linejoin="round"/>
<polygon points="550.8,683.7 562.8,671.7 577.8,686.7 565.8,700.0" fill="#5a6aaa" stroke="#5a6aaa" stroke-width="0.6" stroke-linejoin="round"/>
<polygon points="573.3,683.7 585.0,678.0 598.7,693.0 590.0,702.0" fill="#4a5fa4" stroke="#4a5fa4" stroke-width="0.6" stroke-linejoin="round"/>
<line x1="582.3" y1="619.3" x2="595.7" y2="632.8" stroke="#5a6aaa" stroke-width="9"/>
<line x1="597.2" y1="665.7" x2="613.7" y2="674.7" stroke="#4a78b0" stroke-width="8"/>
<line x1="607.7" y1="682.2" x2="625.7" y2="694.2" stroke="#569fc8" stroke-width="10"/>
<line x1="565.0" y1="640.0" x2="600.0" y2="660.0" stroke="#62bedc" stroke-width="8"/>
<line x1="575.0" y1="655.0" x2="605.0" y2="680.0" stroke="#4a62a8" stroke-width="7"/>
<line x1="581.0" y1="614.5" x2="601.0" y2="627.5" stroke="#ffffff" stroke-width="4"/>
<polygon points="380.0,683.8 405.4,629.9 440.0,640.0 472.8,664.4 499.8,656.9 540.0,683.8 543.3,720.8 520.8,741.0 511.8,754.5 491.6,745.5 478.2,759.0 460.2,745.5 446.7,756.7 432.0,745.0 418.7,742.7 401.6,731.6 385.0,715.0" fill="#14c814" stroke="#14c814" stroke-width="0.6" stroke-linejoin="round"/>
<line x1="421.9" y1="627.0" x2="451.9" y2="627.0" stroke="#3ed670" stroke-width="20"/>
<line x1="454.9" y1="619.5" x2="484.8" y2="619.5" stroke="#3ed670" stroke-width="18"/>
<line x1="439.9" y1="629.9" x2="472.8" y2="662.9" stroke="#62bedc" stroke-width="15"/>
<line x1="484.8" y1="618.0" x2="540.0" y2="682.3" stroke="#5ed4c0" stroke-width="22"/>
<line x1="495.0" y1="630.0" x2="535.0" y2="675.0" stroke="#62bedc" stroke-width="7"/>
<polygon points="511.7,627.0 525.0,615.0 538.7,627.0 525.0,638.9" fill="#4a5fa4" stroke="#4a5fa4" stroke-width="0.6" stroke-linejoin="round"/>
<polygon points="386.0,683.8 405.4,629.9 424.9,638.9 463.8,670.4 499.8,665.9 514.7,674.9 511.7,689.8 484.8,712.3 460.8,748.2 424.9,725.7 399.5,704.8" fill="#0a950a" stroke="#0a950a" stroke-width="0.6" stroke-linejoin="round"/>
<line x1="409.9" y1="653.9" x2="430.9" y2="670.4" stroke="#0a700a" stroke-width="12"/>
<line x1="429.4" y1="695.8" x2="463.8" y2="730.2" stroke="#0a700a" stroke-width="20"/>
<line x1="484.8" y1="683.8" x2="502.8" y2="698.8" stroke="#0a700a" stroke-width="10"/>
<line x1="420.0" y1="686.0" x2="436.0" y2="700.0" stroke="#4a7a0a" stroke-width="12"/>
<line x1="450.0" y1="690.0" x2="464.0" y2="702.0" stroke="#4a7a0a" stroke-width="7"/>
<line x1="380.0" y1="690.0" x2="418.0" y2="730.0" stroke="#14c814" stroke-width="12"/>
<line x1="409.9" y1="724.3" x2="450.4" y2="755.7" stroke="#569fc8" stroke-width="10"/>
<line x1="420.0" y1="735.0" x2="445.0" y2="752.0" stroke="#62bedc" stroke-width="5"/>
<line x1="466.8" y1="730.2" x2="484.8" y2="755.7" stroke="#62bedc" stroke-width="15"/>
<line x1="499.8" y1="716.8" x2="529.7" y2="749.7" stroke="#5ed4c0" stroke-width="15"/>
<line x1="514.7" y1="719.8" x2="540.0" y2="734.7" stroke="#4a78b0" stroke-width="8"/>
<line x1="484.8" y1="715.3" x2="514.7" y2="742.2" stroke="#3ed670" stroke-width="12"/>
<polygon points="380.0,730.0 390.0,716.8 402.5,730.0 392.0,746.7" fill="#5a6aaa" stroke="#5a6aaa" stroke-width="0.6" stroke-linejoin="round"/>
<polygon points="300.0,618.0 311.2,629.2 319.5,638.9 325.4,638.2 340.0,652.0 339.0,657.0 355.4,674.1 352.4,677.1 335.9,660.6 331.4,662.1 315.0,644.9 311.2,648.7 300.0,636.7 294.0,630.0" fill="#ffffff" stroke="#ffffff" stroke-width="0.6" stroke-linejoin="round"/>
<polygon points="302.2,598.0 322.5,598.0 322.5,604.5 310.5,616.5 302.2,607.5" fill="#ffffff" stroke="#ffffff" stroke-width="0.6" stroke-linejoin="round"/>
<polygon points="562.4,931.2 603.9,960.4 584.2,987.4 542.7,958.2" fill="#5a6aaa" stroke="#5a6aaa" stroke-width="0.6" stroke-linejoin="round"/>
<polygon points="547.0,952.0 560.0,940.0 595.0,966.0 584.2,987.4 542.7,958.2" fill="#4a7ab8" stroke="#4a7ab8" stroke-width="0.6" stroke-linejoin="round"/>
<polygon points="553.0,945.0 558.0,938.0 590.0,960.0 585.0,968.0" fill="#4a62a8" stroke="#4a62a8" stroke-width="0.6" stroke-linejoin="round"/>
<polygon points="515.2,997.5 536.5,1012.6 530.9,1018.8 554.5,1033.4 520.0,1034.5 503.4,1012.0" fill="#5a6aaa" stroke="#5a6aaa" stroke-width="0.6" stroke-linejoin="round"/>
<polygon points="510.0,1002.0 515.2,997.5 536.5,1012.6 530.0,1020.0" fill="#4a62a8" stroke="#4a62a8" stroke-width="0.6" stroke-linejoin="round"/>
<polygon points="996.5,899.5 1015.0,905.2 1015.0,917.8 996.5,912.1" fill="#4a62a8" stroke="#4a62a8" stroke-width="0.6" stroke-linejoin="round"/>
<polygon points="996.5,906.0 1015.0,911.0 1015.0,917.8 996.5,912.1" fill="#4a78b0" stroke="#4a78b0" stroke-width="0.6" stroke-linejoin="round"/>
<line x1="163.5" y1="45.5" x2="163.5" y2="1034.5" stroke="#999" stroke-opacity="0.5" stroke-width="0.8" stroke-dasharray="5.5,1.8"/>
<line x1="356.7" y1="45.5" x2="356.7" y2="1034.5" stroke="#999" stroke-opacity="0.5" stroke-width="0.8" stroke-dasharray="5.5,1.8"/>
<line x1="550.2" y1="45.5" x2="550.2" y2="1034.5" stroke="#999" stroke-opacity="0.5" stroke-width="0.8" stroke-dasharray="5.5,1.8"/>
<line x1="743.6" y1="45.5" x2="743.6" y2="1034.5" stroke="#999" stroke-opacity="0.5" stroke-width="0.8" stroke-dasharray="5.5,1.8"/>
<line x1="937.0" y1="45.5" x2="937.0" y2="1034.5" stroke="#999" stroke-opacity="0.5" stroke-width="0.8" stroke-dasharray="5.5,1.8"/>
<line x1="85.5" y1="75.4" x2="1015.5" y2="75.4" stroke="#999" stroke-opacity="0.5" stroke-width="0.8" stroke-dasharray="5.5,1.8"/>
<line x1="85.5" y1="226.4" x2="1015.5" y2="226.4" stroke="#999" stroke-opacity="0.5" stroke-width="0.8" stroke-dasharray="5.5,1.8"/>
<line x1="85.5" y1="376.6" x2="1015.5" y2="376.6" stroke="#999" stroke-opacity="0.5" stroke-width="0.8" stroke-dasharray="5.5,1.8"/>
<line x1="85.5" y1="526.6" x2="1015.5" y2="526.6" stroke="#999" stroke-opacity="0.5" stroke-width="0.8" stroke-dasharray="5.5,1.8"/>
<line x1="85.5" y1="675.7" x2="1015.5" y2="675.7" stroke="#999" stroke-opacity="0.5" stroke-width="0.8" stroke-dasharray="5.5,1.8"/>
<line x1="85.5" y1="825.6" x2="1015.5" y2="825.6" stroke="#999" stroke-opacity="0.5" stroke-width="0.8" stroke-dasharray="5.5,1.8"/>
<line x1="85.5" y1="974.4" x2="1015.5" y2="974.4" stroke="#999" stroke-opacity="0.5" stroke-width="0.8" stroke-dasharray="5.5,1.8"/>
<path d="M644.8,46.2 C645.1,47.6 647.1,51.5 646.7,54.4 C646.3,57.3 643.8,60.2 642.5,63.7 C641.2,67.2 640.0,72.7 639.0,75.4 C638.0,78.1 638.1,79.7 636.7,80.1 C635.3,80.5 632.6,78.7 630.8,77.7 C629.0,76.7 627.4,74.0 626.1,74.2 C624.9,74.4 623.3,77.0 623.3,78.9 C623.3,80.9 624.6,84.0 626.1,85.9 C627.6,87.9 629.6,89.9 632.0,90.6 C634.4,91.3 637.7,89.5 640.2,89.9 C642.7,90.3 645.2,91.0 647.2,92.9 C649.2,94.8 650.5,98.4 651.9,101.1 C653.3,103.8 653.6,107.1 655.4,109.3 C657.1,111.5 659.9,113.3 662.4,114.0 C664.9,114.7 667.3,112.9 670.6,113.5 C673.9,114.1 679.0,116.2 682.3,117.5 C685.6,118.8 689.4,120.0 690.4,121.0 C691.4,122.0 689.1,122.9 688.1,123.3 C687.1,123.7 685.3,121.2 684.1,123.3 C682.9,125.4 682.3,131.7 681.1,136.2 C679.9,140.7 678.0,145.9 677.1,150.2 C676.2,154.5 675.2,158.0 675.7,161.9 C676.2,165.8 678.4,170.1 679.9,173.6 C681.4,177.1 682.6,180.7 684.6,183.0 C686.6,185.3 689.5,186.1 691.6,187.7 C693.8,189.2 696.1,189.2 697.5,192.3 C698.9,195.4 698.6,202.3 699.8,206.4 C701.0,210.5 702.8,215.4 704.5,216.9 C706.2,218.4 707.8,217.4 710.3,215.7 C712.8,213.9 719.1,208.9 719.7,206.4 C720.3,203.9 715.4,203.2 713.8,200.5 C712.2,197.8 711.1,193.3 710.3,190.0 C709.5,186.7 708.3,183.7 709.1,180.6 C709.9,177.5 712.5,173.2 715.0,171.3 C717.5,169.4 722.1,168.6 724.4,169.0 C726.7,169.4 728.0,170.9 729.0,173.6 C730.0,176.3 729.6,181.4 730.2,185.3 C730.8,189.2 732.3,193.5 732.5,197.0 C732.7,200.5 730.8,203.3 731.4,206.4 C732.0,209.5 734.5,212.2 736.0,215.7 C737.5,219.2 740.1,224.9 740.7,227.4 C741.3,229.9 739.1,231.7 739.5,230.9 C739.9,230.1 741.5,226.0 743.1,222.7 C744.7,219.4 746.8,213.1 748.9,211.0 C751.0,208.9 753.9,209.5 755.9,209.9 C757.9,210.3 759.0,211.1 760.6,213.4 C762.2,215.7 763.1,222.0 765.3,223.9 C767.4,225.8 769.2,224.8 773.5,225.1 C777.8,225.4 790.4,223.2 791.0,225.5 C791.6,227.8 779.5,236.2 777.0,239.1 C774.5,241.9 774.8,241.0 775.8,242.6 C776.8,244.2 780.3,245.8 782.8,248.5 C785.3,251.2 788.7,256.1 791.0,259.0 C793.3,261.9 796.8,263.9 796.8,266.0 C796.8,268.1 791.8,269.7 791.0,271.8 C790.2,273.9 791.6,276.4 792.2,278.9 C792.8,281.4 795.3,284.3 794.5,287.0 C793.7,289.7 788.7,293.7 787.5,295.0" fill="none" stroke="#000" stroke-width="2.8" stroke-linejoin="round" stroke-linecap="round"/>
<path d="M787.5,295.0 C787.1,295.0 786.8,293.8 785.2,295.2 C783.6,296.6 778.7,301.1 778.1,303.4 C777.5,305.7 778.5,307.8 781.6,309.2 C784.7,310.6 793.1,310.6 796.8,311.6 C800.5,312.6 801.9,312.6 803.9,315.1 C805.9,317.6 807.5,323.3 808.5,326.8 C809.5,330.3 810.5,333.6 809.7,336.1 C808.9,338.6 806.0,341.0 803.9,342.0 C801.8,343.0 797.8,341.0 796.8,342.0 C795.8,343.0 796.8,345.7 798.0,347.8 C799.2,349.9 802.5,351.7 803.9,354.8 C805.3,357.9 805.4,363.4 806.2,366.5 C807.0,369.6 806.2,370.2 808.5,373.5 C810.8,376.8 818.1,384.2 820.0,386.4" fill="none" stroke="#000" stroke-width="2.8" stroke-linejoin="round" stroke-linecap="round"/>
<path d="M820.0,386.4 C821.0,386.8 823.7,388.1 826.1,388.5 C828.5,388.9 831.9,387.2 834.2,389.1 C836.6,391.1 838.9,397.5 840.2,400.2 C841.5,402.9 840.2,403.0 842.2,405.2 C844.2,407.4 849.9,410.7 852.3,413.2 C854.6,415.7 855.0,417.6 856.3,420.3 C857.6,423.0 858.6,427.0 860.3,429.3 C862.0,431.6 863.0,432.5 866.4,434.4 C869.8,436.2 877.1,438.6 880.5,440.4 C883.9,442.2 884.5,444.7 886.5,445.4 C888.5,446.1 890.3,445.4 892.5,444.4 C894.7,443.4 897.6,439.7 899.6,439.4 C901.6,439.1 902.8,440.6 904.6,442.4 C906.4,444.2 908.1,448.9 910.6,450.4 C913.1,451.9 917.9,450.1 919.7,451.5 C921.6,452.9 921.2,456.0 921.7,458.5 C922.2,461.0 921.5,463.6 922.7,466.5 C923.9,469.4 926.7,473.9 928.7,475.6 C930.7,477.3 931.8,477.6 934.8,476.6 C937.8,475.6 942.8,471.5 946.8,469.6 C950.8,467.8 956.4,466.0 958.9,465.5 C961.4,465.0 961.1,464.3 961.9,466.5 C962.7,468.7 963.6,474.6 963.9,478.6 C964.2,482.6 963.0,486.3 963.9,490.7 C964.8,495.1 966.8,501.1 969.0,504.8 C971.2,508.5 974.8,510.1 977.0,512.8 C979.2,515.5 981.3,517.4 982.0,520.8 C982.7,524.1 981.8,529.2 981.0,532.9 C980.2,536.6 977.8,539.3 977.0,543.0 C976.2,546.7 975.3,551.6 976.0,555.0 C976.7,558.4 978.5,561.1 981.0,563.1 C983.5,565.1 987.8,566.9 991.1,567.1 C994.5,567.3 998.1,565.8 1001.1,564.1 C1004.1,562.4 1007.4,559.9 1009.2,557.0 C1011.1,554.1 1011.2,551.5 1012.2,547.0 C1013.2,542.5 1014.5,532.8 1015.0,529.9" fill="none" stroke="#000" stroke-width="2.8" stroke-linejoin="round" stroke-linecap="round"/>
<polyline points="85.0,889.8 101.9,891.8 116.8,907.7 128.7,925.6 142.7,944.5 130.7,955.4 112.8,974.3 108.9,995.2 107.9,1019.1 116.8,1034.5" fill="none" stroke="#000" stroke-width="2.8" stroke-linejoin="miter" stroke-linecap="butt"/>
<path d="M539.0,113.99999999999994 A430.8,430.8 0 1 1 539.0,975.5999999999999 A430.8,430.8 0 1 1 539.0,113.99999999999994" fill="none" stroke="#000" stroke-width="4.2" stroke-dasharray="15.4,6.7" stroke-dashoffset="1.7"/>
<path d="M539.0,329.29999999999995 A215.5,215.5 0 1 1 539.0,760.3 A215.5,215.5 0 1 1 539.0,329.29999999999995" fill="none" stroke="#000" stroke-width="4.2" stroke-dasharray="15.4,6.7" stroke-dashoffset="8.8"/>
<path d="M535.0,546 h9 M539.5,541.2 v9.6" stroke="#000" stroke-width="3"/>
</g>
<rect x="85.5" y="45.5" width="930.0" height="989.0" fill="none" stroke="#000" stroke-width="1.2"/>
<text x="304" y="117.6" font-family="Liberation Sans" font-weight="bold" font-size="19.5" textLength="65.5" lengthAdjust="spacingAndGlyphs">16 km</text>
<text x="424" y="312" font-family="Liberation Sans" font-weight="bold" font-size="19.5" textLength="52" lengthAdjust="spacingAndGlyphs">8 km</text>
<text x="163.5" y="1054.8" text-anchor="middle" font-family="Liberation Sans" font-size="17.5" textLength="44.7" lengthAdjust="spacingAndGlyphs">5.9°E</text>
<text x="356.7" y="1054.8" text-anchor="middle" font-family="Liberation Sans" font-size="17.5" textLength="29.5" lengthAdjust="spacingAndGlyphs">6°E</text>
<text x="550.2" y="1054.8" text-anchor="middle" font-family="Liberation Sans" font-size="17.5" textLength="44.7" lengthAdjust="spacingAndGlyphs">6.1°E</text>
<text x="743.6" y="1054.8" text-anchor="middle" font-family="Liberation Sans" font-size="17.5" textLength="44.7" lengthAdjust="spacingAndGlyphs">6.2°E</text>
<text x="937.0" y="1054.8" text-anchor="middle" font-family="Liberation Sans" font-size="17.5" textLength="44.7" lengthAdjust="spacingAndGlyphs">6.3°E</text>
<text x="78" y="79.9" text-anchor="end" font-family="Liberation Sans" font-size="17.5" textLength="41.8" lengthAdjust="spacingAndGlyphs">50°N</text>
<text x="78" y="230.9" text-anchor="end" font-family="Liberation Sans" font-size="17.5" textLength="66.6" lengthAdjust="spacingAndGlyphs">49.95°N</text>
<text x="78" y="381.1" text-anchor="end" font-family="Liberation Sans" font-size="17.5" textLength="57.5" lengthAdjust="spacingAndGlyphs">49.9°N</text>
<text x="78" y="531.1" text-anchor="end" font-family="Liberation Sans" font-size="17.5" textLength="66.6" lengthAdjust="spacingAndGlyphs">49.85°N</text>
<text x="78" y="680.2" text-anchor="end" font-family="Liberation Sans" font-size="17.5" textLength="57.5" lengthAdjust="spacingAndGlyphs">49.8°N</text>
<text x="78" y="830.1" text-anchor="end" font-family="Liberation Sans" font-size="17.5" textLength="66.6" lengthAdjust="spacingAndGlyphs">49.75°N</text>
<text x="78" y="978.9" text-anchor="end" font-family="Liberation Sans" font-size="17.5" textLength="57.5" lengthAdjust="spacingAndGlyphs">49.7°N</text>
<text x="550" y="37.6" text-anchor="middle" font-family="Liberation Sans" font-size="36.5" textLength="390" lengthAdjust="spacingAndGlyphs">06.02.2026 16:03 UTC</text>
<rect x="1073.5" y="957.84" width="45.0" height="32.46" fill="#6673a6"/>
<rect x="1073.5" y="925.68" width="45.0" height="32.46" fill="#5567a0"/>
<rect x="1073.5" y="893.52" width="45.0" height="32.46" fill="#4a5fa4"/>
<rect x="1073.5" y="861.36" width="45.0" height="32.46" fill="#4a78b0"/>
<rect x="1073.5" y="829.20" width="45.0" height="32.46" fill="#569fc8"/>
<rect x="1073.5" y="797.04" width="45.0" height="32.46" fill="#62bedc"/>
<rect x="1073.5" y="764.88" width="45.0" height="32.46" fill="#5ed4c0"/>
<rect x="1073.5" y="732.71" width="45.0" height="32.46" fill="#3ed670"/>
<rect x="1073.5" y="700.55" width="45.0" height="32.46" fill="#14c814"/>
<rect x="1073.5" y="668.39" width="45.0" height="32.46" fill="#12aa12"/>
<rect x="1073.5" y="636.23" width="45.0" height="32.46" fill="#0a950a"/>
<rect x="1073.5" y="604.07" width="45.0" height="32.46" fill="#0a850a"/>
<rect x="1073.5" y="571.91" width="45.0" height="32.46" fill="#0a700a"/>
<rect x="1073.5" y="539.75" width="45.0" height="32.46" fill="#006010"/>
<rect x="1073.5" y="507.59" width="45.0" height="32.46" fill="#4a7a0a"/>
<rect x="1073.5" y="475.43" width="45.0" height="32.46" fill="#b0b00a"/>
<rect x="1073.5" y="443.27" width="45.0" height="32.46" fill="#ffd700"/>
<rect x="1073.5" y="411.11" width="45.0" height="32.46" fill="#ffb300"/>
<rect x="1073.5" y="378.95" width="45.0" height="32.46" fill="#ff9900"/>
<rect x="1073.5" y="346.79" width="45.0" height="32.46" fill="#ff7f00"/>
<rect x="1073.5" y="314.62" width="45.0" height="32.46" fill="#e00000"/>
<rect x="1073.5" y="282.46" width="45.0" height="32.46" fill="#c00000"/>
<rect x="1073.5" y="250.30" width="45.0" height="32.46" fill="#9a0000"/>
<rect x="1073.5" y="218.14" width="45.0" height="32.46" fill="#7a0000"/>
<rect x="1073.5" y="185.98" width="45.0" height="32.46" fill="#ffe0ff"/>
<rect x="1073.5" y="153.82" width="45.0" height="32.46" fill="#ffb0ff"/>
<rect x="1073.5" y="121.66" width="45.0" height="32.46" fill="#ff66ff"/>
<rect x="1073.5" y="89.50" width="45.0" height="32.46" fill="#ee33ee"/>
<rect x="1073.5" y="89.5" width="45.0" height="900.5" fill="none" stroke="#000" stroke-width="1.2"/>
<line x1="1118.5" y1="990.0" x2="1124.0" y2="990.0" stroke="#000" stroke-width="1.2"/>
<text x="1129" y="1000.5" font-family="Liberation Sans" font-size="30">0</text>
<line x1="1118.5" y1="861.4" x2="1124.0" y2="861.4" stroke="#000" stroke-width="1.2"/>
<text x="1129" y="871.9" font-family="Liberation Sans" font-size="30">10</text>
<line x1="1118.5" y1="732.7" x2="1124.0" y2="732.7" stroke="#000" stroke-width="1.2"/>
<text x="1129" y="743.2" font-family="Liberation Sans" font-size="30">20</text>
<line x1="1118.5" y1="604.1" x2="1124.0" y2="604.1" stroke="#000" stroke-width="1.2"/>
<text x="1129" y="614.6" font-family="Liberation Sans" font-size="30">30</text>
<line x1="1118.5" y1="475.4" x2="1124.0" y2="475.4" stroke="#000" stroke-width="1.2"/>
<text x="1129" y="485.9" font-family="Liberation Sans" font-size="30">40</text>
<line x1="1118.5" y1="346.8" x2="1124.0" y2="346.8" stroke="#000" stroke-width="1.2"/>
<text x="1129" y="357.3" font-family="Liberation Sans" font-size="30">50</text>
<line x1="1118.5" y1="218.1" x2="1124.0" y2="218.1" stroke="#000" stroke-width="1.2"/>
<text x="1129" y="228.6" font-family="Liberation Sans" font-size="30">60</text>
<line x1="1118.5" y1="89.5" x2="1124.0" y2="89.5" stroke="#000" stroke-width="1.2"/>
<text x="1129" y="100.0" font-family="Liberation Sans" font-size="30">70</text>
<text transform="translate(1192,542) rotate(-90)" text-anchor="middle" font-family="Liberation Sans" font-size="29.5">dBZ</text>
</svg></body></html>
